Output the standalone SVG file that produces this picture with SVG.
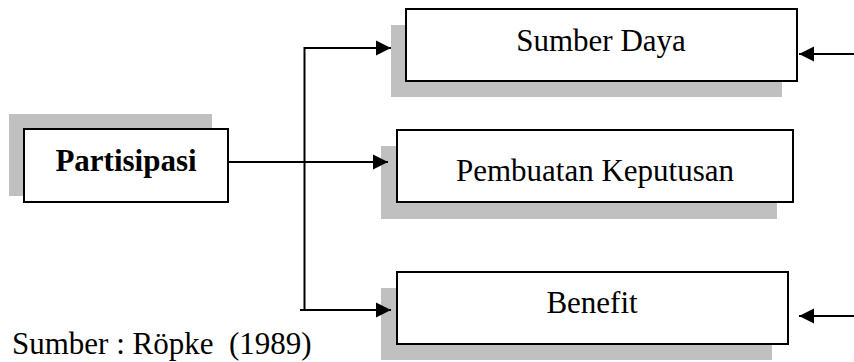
<svg xmlns="http://www.w3.org/2000/svg" width="854" height="362" viewBox="0 0 854 362">
<style>
.sh{fill:#c0c0c0;stroke:none}
.bx{fill:#fff;stroke:#000;stroke-width:2}
.t{font-family:"Liberation Serif","Times New Roman",serif;font-size:31px;fill:#000;text-anchor:middle}
.b{font-weight:bold}
.ln{fill:none;stroke:#000;stroke-width:2}
.ar{marker-end:url(#ah)}
</style>
<defs>
<marker id="ah" markerUnits="userSpaceOnUse" markerWidth="16" markerHeight="16" refX="15" refY="8" orient="auto">
<path d="M0,0.5 L15,8 L0,15.5 z" fill="#000"/>
</marker>
</defs>
<rect width="854" height="362" fill="#fff"/>
<g id="partisipasi">
<rect class="sh" x="9" y="114" width="203" height="82"/>
<rect class="bx" x="24" y="129" width="204" height="73"/>
<text class="t b" x="126" y="171">Partisipasi</text>
</g>
<g id="sumber-daya">
<rect class="sh" x="391" y="25" width="391" height="72"/>
<rect class="bx" x="406" y="9" width="391" height="72"/>
<text class="t" x="601" y="51">Sumber Daya</text>
</g>
<g id="pembuatan-keputusan">
<rect class="sh" x="381" y="146" width="396" height="73"/>
<rect class="bx" x="397" y="130" width="396" height="72"/>
<text class="t" x="595" y="181">Pembuatan Keputusan</text>
</g>
<g id="benefit">
<rect class="sh" x="381" y="288" width="391" height="72"/>
<rect class="bx" x="397" y="272" width="391" height="72"/>
<text class="t" x="592" y="313">Benefit</text>
</g>
<g id="connectors">
<path class="ln" d="M304.5,47 V311"/>
<path class="ln ar" d="M304,48 H391"/>
<path class="ln ar" d="M228,162 H388"/>
<path class="ln ar" d="M300,310 H391"/>
<path class="ln ar" d="M854,54 H799"/>
<path class="ln ar" d="M854,316 H799"/>
</g>
<text id="source" x="12" y="354" style="font-family:'Liberation Serif','Times New Roman',serif;font-size:31px;fill:#000">Sumber : Röpke &#160;(1989)</text>
</svg>
